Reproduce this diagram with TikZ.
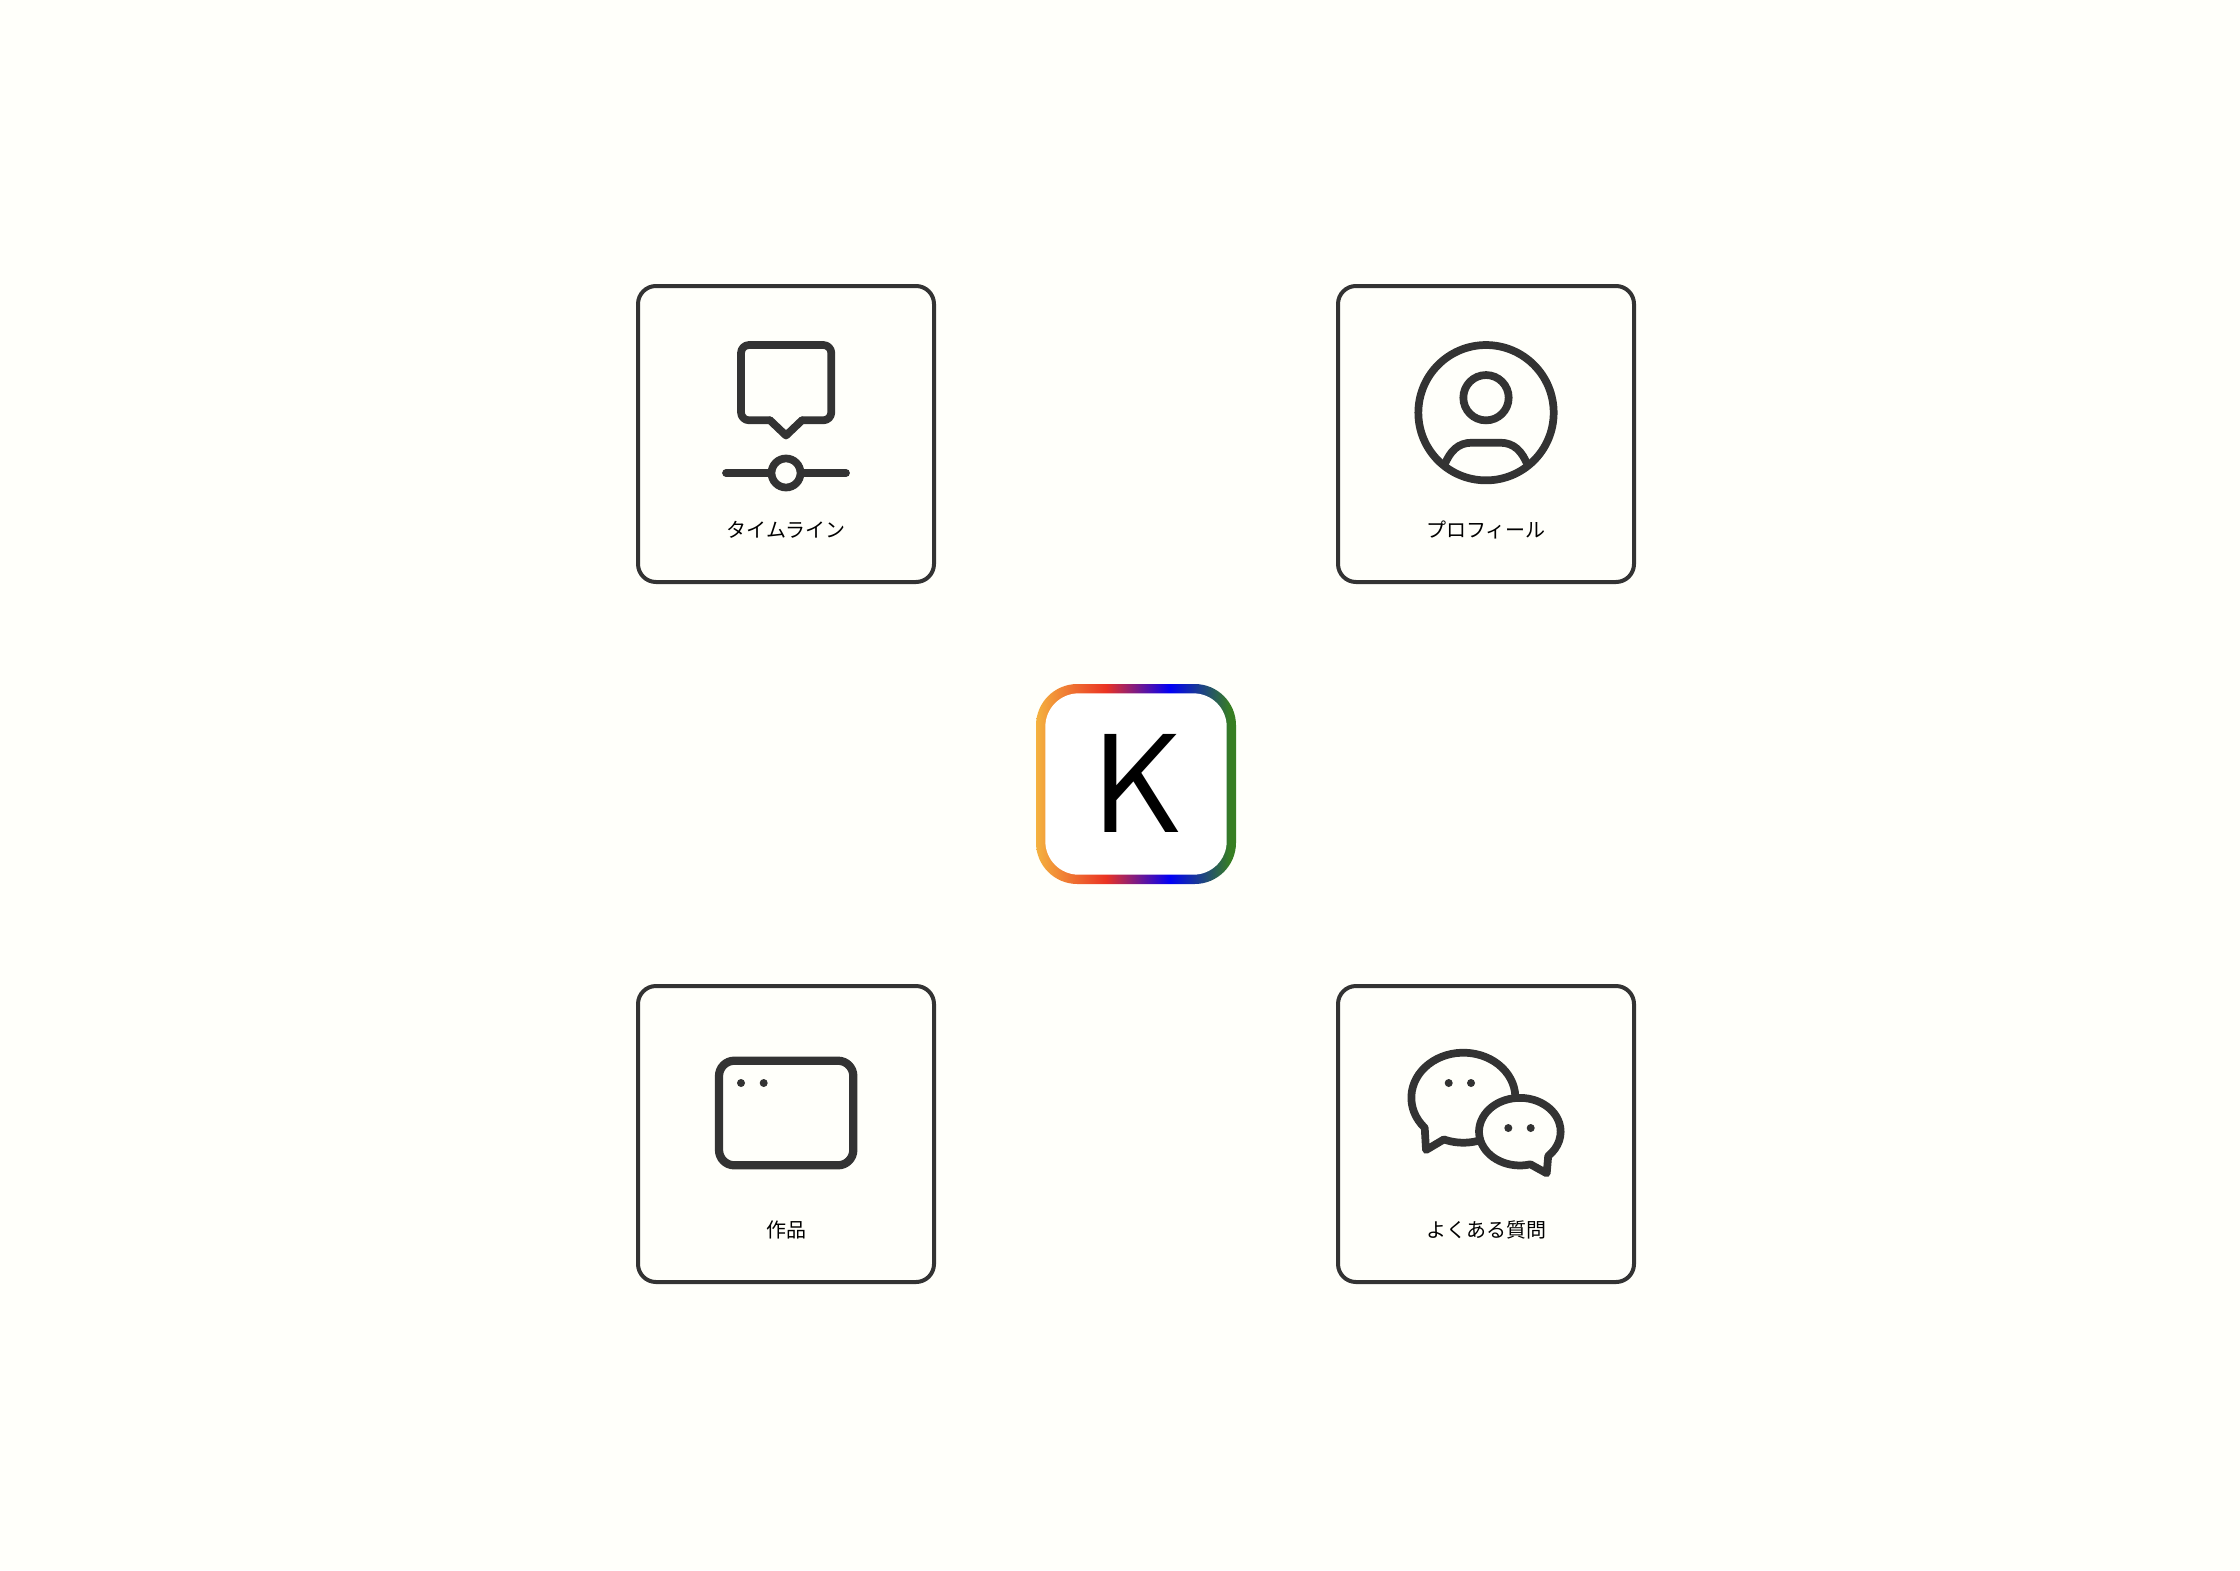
\documentclass[tikz,border=0pt]{standalone}
\usepackage{fontspec}
\usepackage{xcolor}
\newfontfamily\jpfont{Noto Sans CJK JP}
\definecolor{pagebg}{HTML}{FFFFFA}
\definecolor{inkgray}{HTML}{333333}
\definecolor{logoorange}{HTML}{F4B23F}
\definecolor{logored}{HTML}{EA3323}
\definecolor{logoblue}{HTML}{0000F5}
\definecolor{logogreen}{HTML}{377E22}
\pgfdeclarehorizontalshading{logograd}{100bp}{color(0bp)=(logoorange); color(25bp)=(logoorange); color(42.5bp)=(logored); color(58.5bp)=(logoblue); color(73.5bp)=(logogreen); color(100bp)=(logogreen)}
\tikzset{
  card/.style={draw=inkgray,line width=3pt,rounded corners=13.5pt,minimum size=222pt,inner sep=0pt},
  cardlabel/.style={anchor=base,inner sep=0pt,text=black,font=\jpfont\fontsize{15pt}{18pt}\selectfont},
  icon/.style={draw=inkgray,line width=5.8pt,line join=round,line cap=round},
  iconring/.style={circle,draw=inkgray,line width=5.8pt,inner sep=0pt},
  icondot/.style={circle,fill=inkgray,inner sep=0pt,minimum size=6pt},
  logoring/.style={rounded corners=31pt,minimum size=150pt,inner sep=0pt,shading=logograd,shading angle=0},
  logoface/.style={fill=white,rounded corners=25pt,minimum size=136pt,inner sep=0pt},
}
\begin{document}
\begin{tikzpicture}[x=0.75pt,y=0.75pt,yscale=-1,xscale=1]
\useasboundingbox (0,0) rectangle (2240,1570);
\fill [pagebg] (0,0) rectangle (2240,1570);

%Centre logo
\node [logoring] (logoring) at (1136,784) {};
\node [logoface] (logoface) at (1136,784) {};
\node [anchor=base,inner sep=0pt,text=black,font=\sffamily\fontsize{106pt}{130pt}\selectfont] (logoletter) at (1138,832) {K};

%Cards
\node [card] (timeline) at (786,434) {};
\node [card] (profile) at (1486,434) {};
\node [card] (works) at (786,1134) {};
\node [card] (faq) at (1486,1134) {};

% Text Node
\node [cardlabel] (timelinetext) at (786,537) {タイムライン};
\node [cardlabel] (profiletext) at (1486,537) {プロフィール};
\node [cardlabel] (workstext) at (786,1237) {作品};
\node [cardlabel] (faqtext) at (1486,1237) {よくある質問};

%Timeline icon
\draw [icon,rounded corners=6pt] (770,420.3) -- (741,420.3) -- (741,345) -- (831.3,345) -- (831.3,420.3) -- (802,420.3);
\draw [icon] (770,420.3) -- (786,435.5) -- (802,420.3);
\node [iconring,minimum size=21.75pt] (timelinedot) at (786,473) {};
\coordinate (timelineleft) at (726,473);
\coordinate (timelineright) at (846,473);
\draw [icon] (timelineleft) -- (timelinedot);
\draw [icon] (timelinedot) -- (timelineright);

%Profile icon
\node [iconring,minimum size=101.5pt] (profileface) at (1486,412.7) {};
\node [iconring,minimum size=34pt] (profilehead) at (1486,397.7) {};
\draw [icon,line cap=butt] (1444,466) .. controls (1450,451) and (1458,442.7) .. (1472,442.7) -- (1500,442.7) .. controls (1514,442.7) and (1522,451) .. (1528,466);

%Works icon
\draw [icon,line width=6.2pt,rounded corners=11.5pt] (719,1060.7) rectangle (853.3,1165.3);
\node [icondot] (worksdota) at (741,1083) {};
\node [icondot] (worksdotb) at (763.7,1083) {};

%Faq icon
\draw [icon] (1424.7,1127.8) arc [start angle=138,end angle=472,x radius=52,y radius=45] -- (1426,1150) -- cycle;
\draw [icon,fill=pagebg] (1530.4,1164.3) arc [start angle=75,end angle=406,x radius=40.8,y radius=33.8] -- (1546.7,1173.3) -- cycle;
\node [icondot] (faqdota) at (1448.7,1083) {};
\node [icondot] (faqdotb) at (1471,1083) {};
\node [icondot] (faqdotc) at (1508.3,1128) {};
\node [icondot] (faqdotd) at (1530.7,1128) {};

\end{tikzpicture}
\end{document}
